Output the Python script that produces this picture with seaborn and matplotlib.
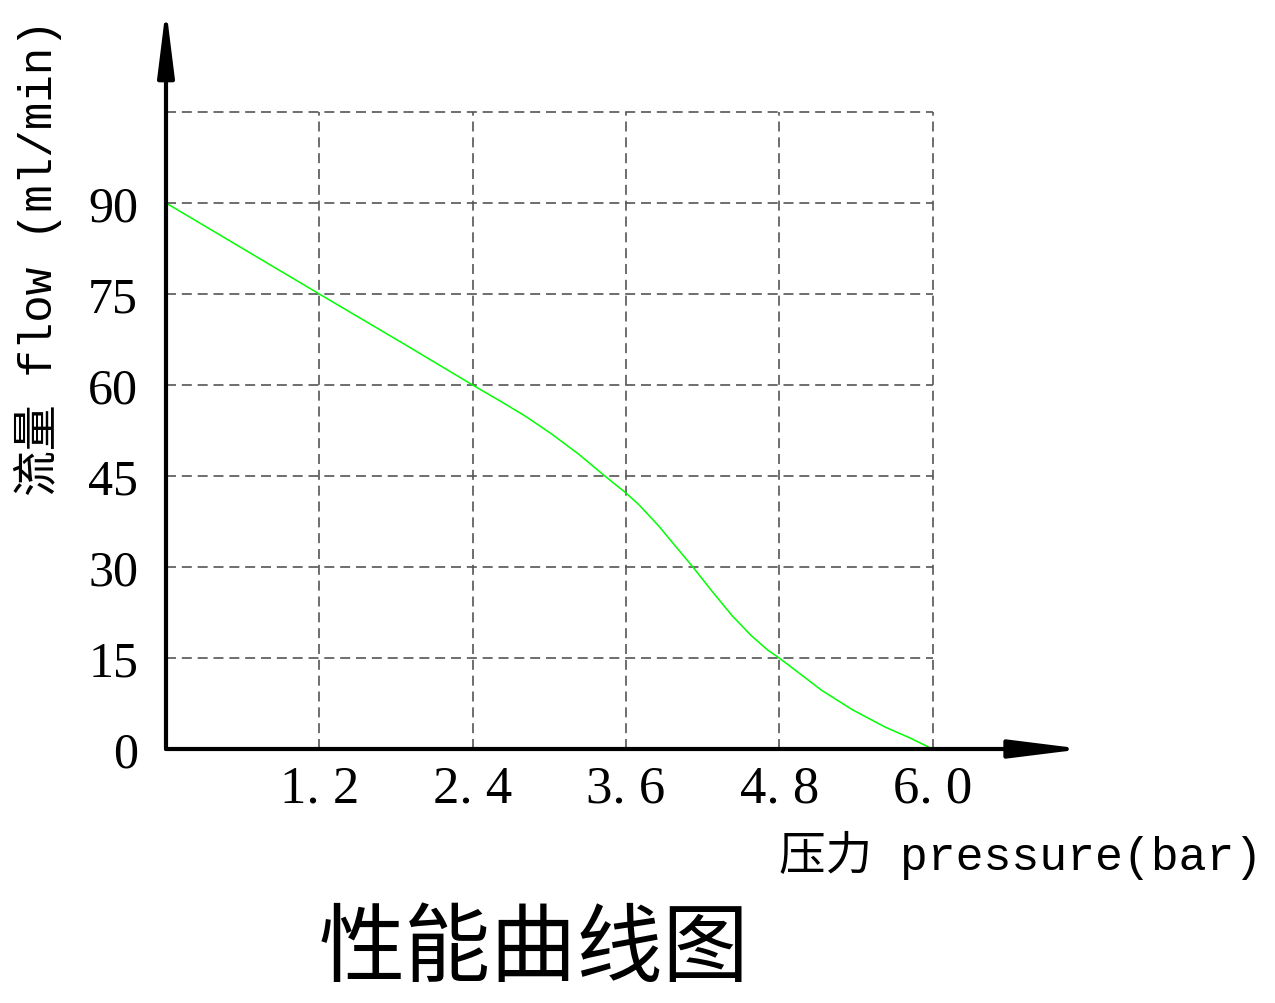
import pandas as pd
import matplotlib
matplotlib.use("Agg")
import matplotlib.pyplot as plt
import seaborn as sns

# values
pressure = [0.0, 0.6, 1.2, 1.86, 2.4, 2.62, 2.81, 3.02, 3.23, 3.435, 3.6, 3.70,
            3.855, 3.985, 4.12, 4.27, 4.43, 4.58, 4.71, 4.8, 4.95, 5.13, 5.37,
            5.63, 5.82, 6.0]
flow = [90.0, 82.5, 75.0, 66.8, 60.0, 57.3, 54.9, 51.9, 48.6, 45.0, 42.2, 40.3,
        36.8, 33.5, 30.1, 26.1, 22.0, 18.7, 16.3, 15.0, 12.6, 9.7, 6.5,
        3.6, 1.85, 0.0]

x_ticks = [1.2, 2.4, 3.6, 4.8, 6.0]
x_labels = ["1. 2", "2. 4", "3. 6", "4. 8", "6. 0"]
y_ticks = [0, 15, 30, 45, 60, 75, 90]
y_grid = [15, 30, 45, 60, 75, 90, 105]

df = pd.DataFrame({"pressure": pressure, "flow": flow})

sns.set_style("white")
plt.rcParams['font.family'] = ['Liberation Serif', 'Noto Sans CJK SC', 'DejaVu Sans']
plt.rcParams['text.color'] = 'black'
plt.rcParams['xtick.color'] = 'black'
plt.rcParams['ytick.color'] = 'black'

W, H = 1275, 1004
fig = plt.figure(figsize=(W / 100, H / 100), dpi=100)
ax = fig.add_axes([166 / W, (H - 750) / H, (1068 - 166) / W, (750 - 22) / H])
ax.set_xlim(0, 7.06)
ax.set_ylim(0, 120)
for s in ax.spines.values():
    s.set_visible(False)

# dashed grid
ax.hlines(y_grid, 0, 6.0, colors='#555555', linestyles=(0, (6, 3.5)), lw=1.2, zorder=1)
ax.vlines(x_ticks, 0, 105, colors='#555555', linestyles=(0, (6, 3.5)), lw=1.2, zorder=1)

sns.lineplot(data=df, x='pressure', y='flow', color='#00ff00', lw=1.1, ax=ax, zorder=3)

# axis arrows
ax.annotate("", xy=(1.017, 0), xytext=(0, 0), xycoords='axes fraction', textcoords='axes fraction',
            arrowprops=dict(arrowstyle="-|>,head_length=44,head_width=5.5", mutation_scale=1,
                            lw=3, color='black', shrinkA=0, shrinkB=0), zorder=4)
ax.annotate("", xy=(0, 1.018), xytext=(0, 0), xycoords='axes fraction', textcoords='axes fraction',
            arrowprops=dict(arrowstyle="-|>,head_length=40,head_width=5", mutation_scale=1,
                            lw=3, color='black', shrinkA=0, shrinkB=0), zorder=4)

ax.set_xticks(x_ticks)
ax.set_xticklabels(x_labels, fontsize=38)
ax.set_yticks(y_ticks)
ax.set_yticklabels([str(v) for v in y_ticks], fontsize=36)
ax.tick_params(axis='x', length=0, pad=11)
ax.tick_params(axis='y', length=0, pad=20)
ax.set_xlabel("")
ax.set_ylabel("")

mono = ['Liberation Mono', 'Noto Sans CJK SC']
fig.text(38 / W, 1 - 258 / H, "流量 flow (ml/min)", rotation=90, ha='center', va='center',
         fontsize=33, family=mono)
fig.text(1021 / W, 1 - 855 / H, "压力 pressure(bar)", ha='center', va='center',
         fontsize=33.5, family=mono)
fig.text(534 / W, 1 - 951 / H, "性能曲线图", ha='center', va='center',
         fontsize=62, family=['Noto Sans CJK SC'], color='black')

fig.savefig("out.png", dpi=100)
